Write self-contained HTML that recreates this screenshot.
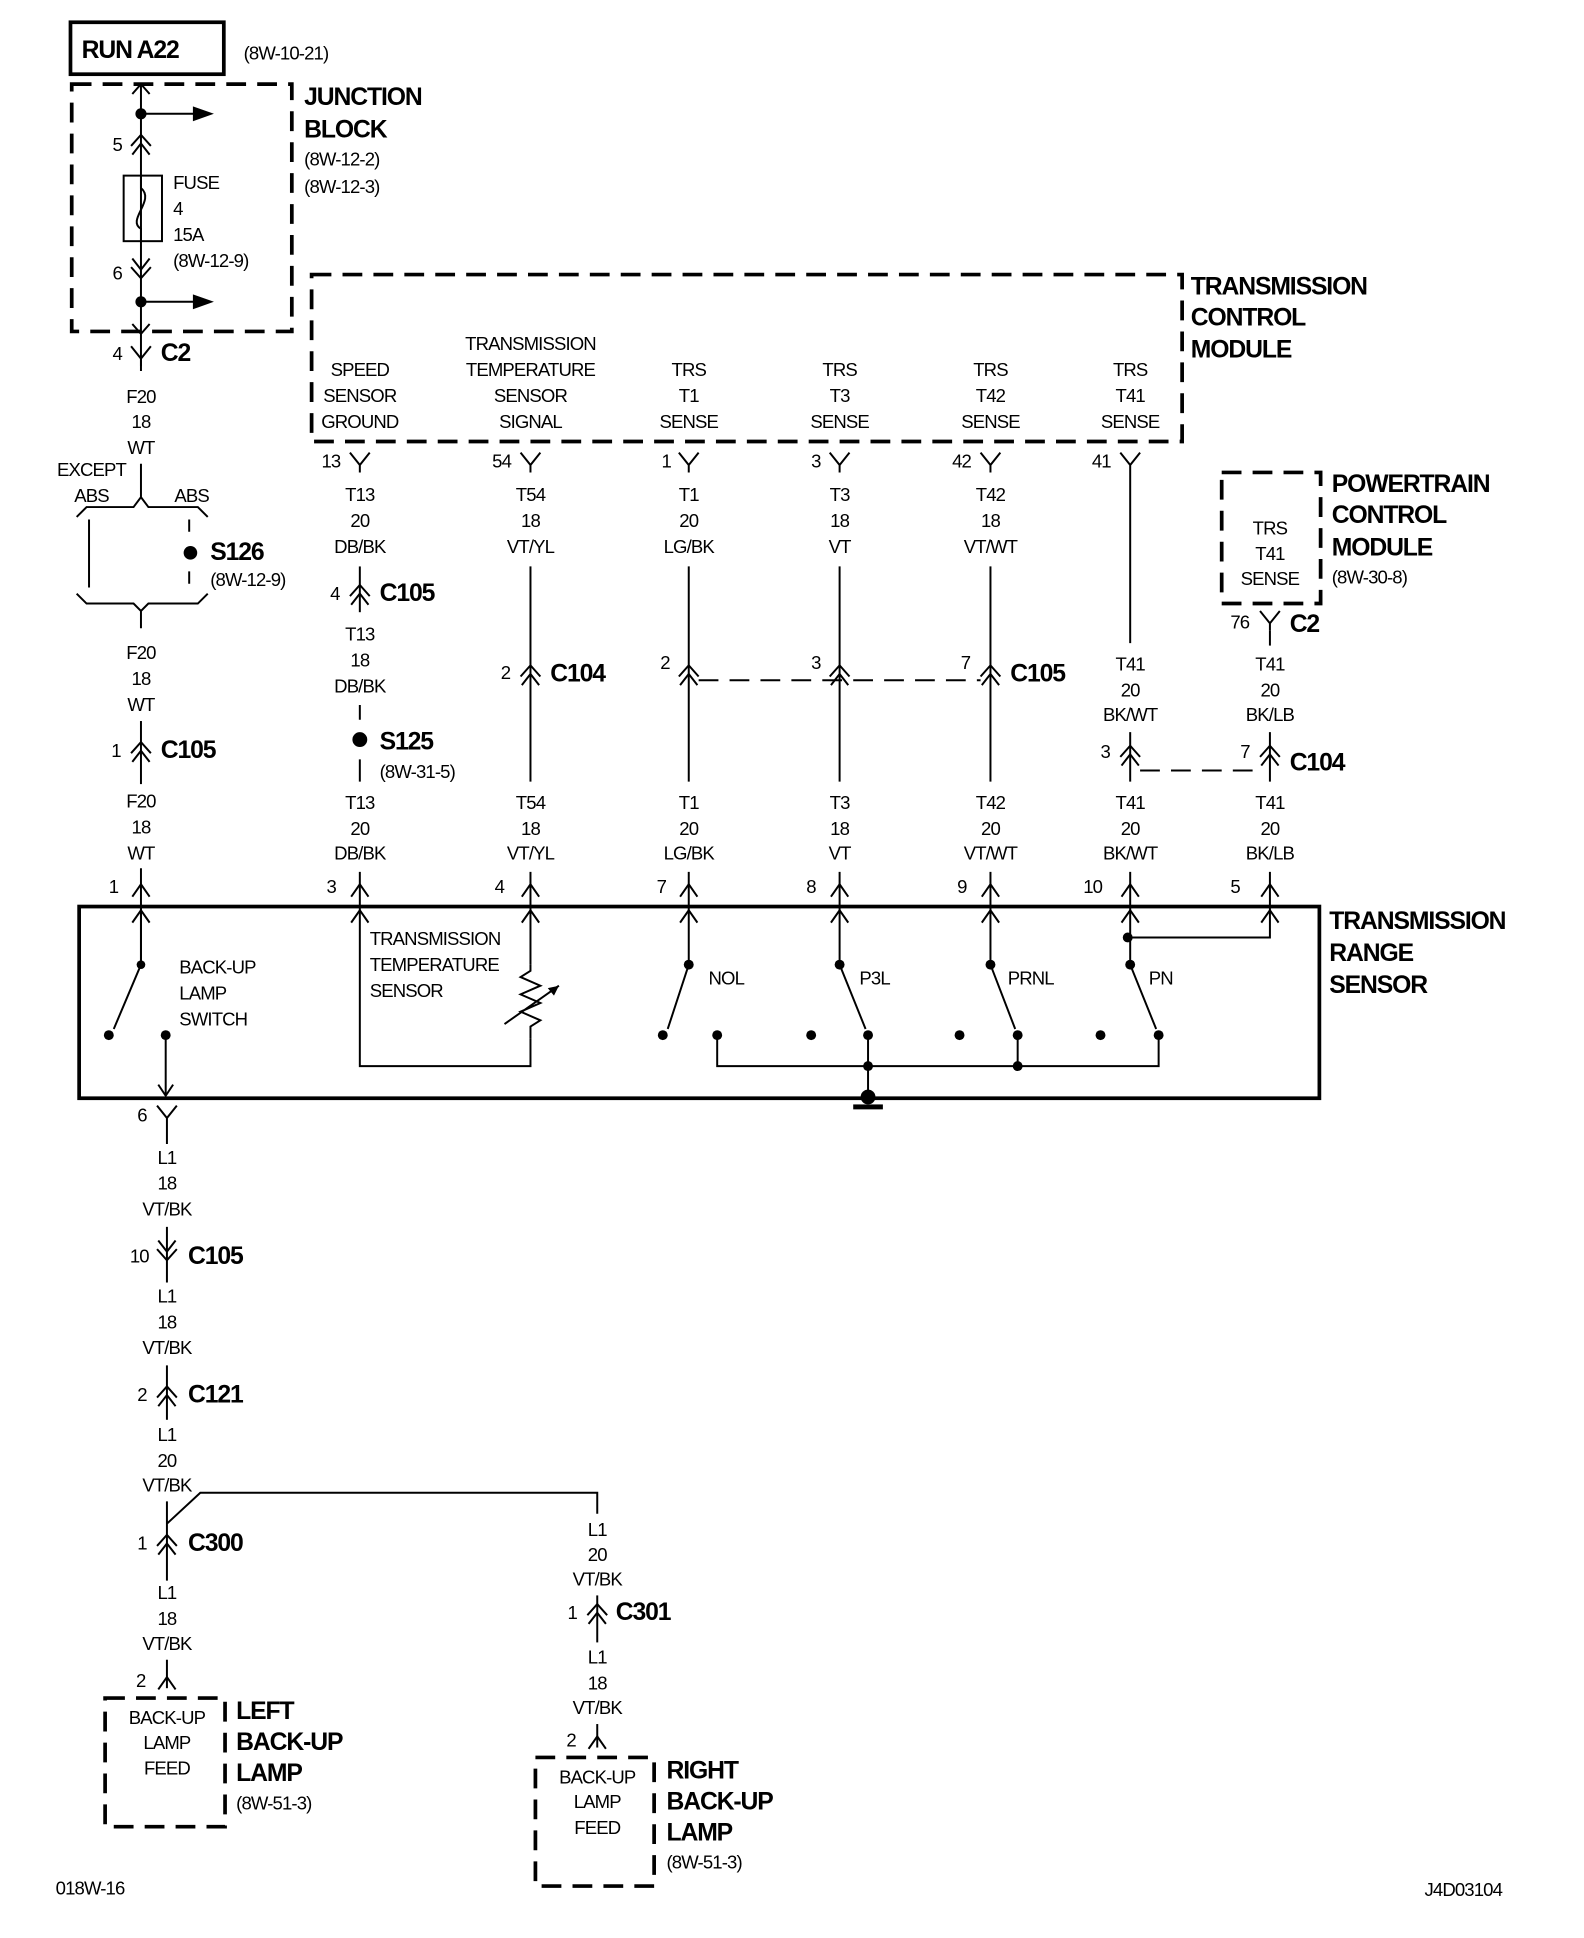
<!DOCTYPE html>
<html><head><meta charset="utf-8"><style>
html,body{margin:0;padding:0;background:#fff;}
svg{display:block;}
text{font-family:"Liberation Sans",sans-serif;font-size:15px;letter-spacing:-0.7px;fill:#000;}
.c{text-anchor:middle;}
.b{font-weight:bold;font-size:20px;letter-spacing:-0.9px;}
.w{stroke:#000;stroke-width:1.6;fill:none;}
.d{stroke:#000;stroke-width:3;fill:none;stroke-dasharray:16 9;}
.t{stroke:#000;stroke-width:3;fill:none;}
</style></head><body>
<svg width="1584" height="1938" viewBox="0 0 1281 1567" preserveAspectRatio="none" xmlns="http://www.w3.org/2000/svg">
<defs>
<g id="Y"><path class="w" d="M-8,-8 L0,2 L8,-8 M0,2 L0,8"/></g>
<g id="P"><path class="w" d="M-7,7 L0,-3 L7,7"/></g>
<g id="C"><path class="w" d="M-8,6 L0,-3 L8,6 M-7,13 L0,4 L7,13"/></g>
<g id="CD"><path class="w" d="M-8,-6 L0,3 L8,-6 M-7,-13 L0,-4 L7,-13"/></g>
</defs>

<rect x="57" y="18" width="124" height="42" class="t" stroke-width="2.5"/>
<text x="66" y="47" class="b">RUN A22</text>
<text x="197" y="48">(8W-10-21)</text>

<rect x="58" y="68" width="178" height="200" class="d"/>
<text x="246" y="85" class="b">JUNCTION</text>
<text x="246" y="111" class="b">BLOCK</text>
<text x="246" y="134">(8W-12-2)</text>
<text x="246" y="156">(8W-12-3)</text>
<path class="w" d="M114,68 L114,300"/>
<path class="w" d="M107,76 L114,68 L121,76 M107,262 L114,270 L121,262"/>
<circle cx="114" cy="92" r="4.5"/><path class="w" d="M114,92 L160,92"/><path d="M156,86 L173,92 L156,98Z"/>
<circle cx="114" cy="244" r="4.5"/><path class="w" d="M114,244 L160,244"/><path d="M156,238 L173,244 L156,250Z"/>
<use href="#C" x="114" y="112"/>
<text x="91" y="122">5</text>
<rect x="100" y="142" width="31" height="53" fill="#fff" class="w"/>
<path class="w" d="M114,142 L114,152 C126,162 102,178 114,185 L114,195"/>
<use href="#CD" x="114" y="222"/>
<text x="91" y="226">6</text>
<text x="140" y="153">FUSE</text><text x="140" y="174">4</text><text x="140" y="195">15A</text><text x="140" y="216">(8W-12-9)</text>
<use href="#Y" x="114" y="288"/>
<text x="91" y="291">4</text><text x="130" y="292" class="b">C2</text>
<text x="114" y="326" class="c">F20</text><text x="114" y="346" class="c">18</text><text x="114" y="367" class="c">WT</text>
<text x="74" y="385" class="c">EXCEPT</text><text x="74" y="406" class="c">ABS</text><text x="155" y="406" class="c">ABS</text>
<path class="w" d="M114,375 L114,402 M62,418 L70,410 L108,410 L114,402 L120,410 L160,410 L168,418"/>
<path class="w" d="M72,420 L72,475 M153,420 L153,430 M153,462 L153,472 M62,480 L70,488 L108,488 L114,494 L120,488 L160,488 L168,480 M114,494 L114,508"/>
<circle cx="154" cy="447" r="5.5"/>
<text x="170" y="453" class="b">S126</text><text x="170" y="474">(8W-12-9)</text>
<text x="114" y="533" class="c">F20</text><text x="114" y="554" class="c">18</text><text x="114" y="575" class="c">WT</text>
<path class="w" d="M114,583 L114,634"/>
<use href="#C" x="114" y="603"/>
<text x="90" y="612">1</text><text x="130" y="613" class="b">C105</text>
<text x="114" y="653" class="c">F20</text><text x="114" y="674" class="c">18</text><text x="114" y="695" class="c">WT</text>
<path class="w" d="M114,702 L114,780"/>

<rect x="252" y="222" width="704" height="135" class="d"/>
<text x="963" y="238" class="b">TRANSMISSION</text>
<text x="963" y="263" class="b">CONTROL</text>
<text x="963" y="289" class="b">MODULE</text>
<text x="429" y="283" class="c">TRANSMISSION</text>
<text x="291" y="304" class="c">SPEED</text><text x="429" y="304" class="c">TEMPERATURE</text><text x="557" y="304" class="c">TRS</text><text x="679" y="304" class="c">TRS</text><text x="801" y="304" class="c">TRS</text><text x="914" y="304" class="c">TRS</text>
<text x="291" y="325" class="c">SENSOR</text><text x="429" y="325" class="c">SENSOR</text><text x="557" y="325" class="c">T1</text><text x="679" y="325" class="c">T3</text><text x="801" y="325" class="c">T42</text><text x="914" y="325" class="c">T41</text>
<text x="291" y="346" class="c">GROUND</text><text x="429" y="346" class="c">SIGNAL</text><text x="557" y="346" class="c">SENSE</text><text x="679" y="346" class="c">SENSE</text><text x="801" y="346" class="c">SENSE</text><text x="914" y="346" class="c">SENSE</text>
<use href="#Y" x="291" y="374"/><use href="#Y" x="429" y="374"/><use href="#Y" x="557" y="374"/><use href="#Y" x="679" y="374"/><use href="#Y" x="801" y="374"/><use href="#Y" x="914" y="374"/>
<text x="260" y="378">13</text><text x="398" y="378">54</text><text x="535" y="378">1</text><text x="656" y="378">3</text><text x="770" y="378">42</text><text x="883" y="378">41</text>
<g class="c">
<text x="291" y="405">T13</text><text x="291" y="426">20</text><text x="291" y="447">DB/BK</text>
<text x="429" y="405">T54</text><text x="429" y="426">18</text><text x="429" y="447">VT/YL</text>
<text x="557" y="405">T1</text><text x="557" y="426">20</text><text x="557" y="447">LG/BK</text>
<text x="679" y="405">T3</text><text x="679" y="426">18</text><text x="679" y="447">VT</text>
<text x="801" y="405">T42</text><text x="801" y="426">18</text><text x="801" y="447">VT/WT</text>
</g>
<path class="w" d="M914,382 L914,520"/>
<path class="w" d="M291,458 L291,495"/>
<use href="#C" x="291" y="476"/>
<text x="267" y="485">4</text><text x="307" y="486" class="b">C105</text>
<text x="291" y="518" class="c">T13</text><text x="291" y="539" class="c">18</text><text x="291" y="560" class="c">DB/BK</text>
<path class="w" d="M291,570 L291,582 M291,614 L291,632"/>
<circle cx="291" cy="598" r="6"/>
<text x="307" y="606" class="b">S125</text><text x="307" y="629">(8W-31-5)</text>
<path class="w" d="M429,458 L429,632 M557,458 L557,632 M679,458 L679,632 M801,458 L801,632"/>
<use href="#C" x="429" y="541"/><use href="#C" x="557" y="541"/><use href="#C" x="679" y="541"/><use href="#C" x="801" y="541"/>
<text x="405" y="549">2</text><text x="445" y="551" class="b">C104</text>
<text x="534" y="541">2</text><text x="656" y="541">3</text><text x="777" y="541">7</text><text x="817" y="551" class="b">C105</text>
<path class="w" d="M565,550 L793,550" stroke-dasharray="16 9"/>
<rect x="988" y="382" width="80" height="106" class="d"/>
<text x="1077" y="398" class="b">POWERTRAIN</text><text x="1077" y="423" class="b">CONTROL</text><text x="1077" y="449" class="b">MODULE</text><text x="1077" y="472">(8W-30-8)</text>
<text x="1027" y="432" class="c">TRS</text><text x="1027" y="453" class="c">T41</text><text x="1027" y="473" class="c">SENSE</text>
<use href="#Y" x="1027" y="502"/><path class="w" d="M1027,510 L1027,522"/>
<text x="995" y="508">76</text><text x="1043" y="511" class="b">C2</text>
<g class="c">
<text x="914" y="542">T41</text><text x="914" y="563">20</text><text x="914" y="583">BK/WT</text>
<text x="1027" y="542">T41</text><text x="1027" y="563">20</text><text x="1027" y="583">BK/LB</text>
</g>
<path class="w" d="M914,592 L914,632 M1027,592 L1027,632"/>
<use href="#C" x="914" y="606"/><use href="#C" x="1027" y="606"/>
<text x="890" y="613">3</text><text x="1003" y="613">7</text><text x="1043" y="623" class="b">C104</text>
<path class="w" d="M922,623 L1019,623" stroke-dasharray="16 9"/>
<g class="c">
<text x="291" y="654">T13</text><text x="291" y="675">20</text><text x="291" y="695">DB/BK</text>
<text x="429" y="654">T54</text><text x="429" y="675">18</text><text x="429" y="695">VT/YL</text>
<text x="557" y="654">T1</text><text x="557" y="675">20</text><text x="557" y="695">LG/BK</text>
<text x="679" y="654">T3</text><text x="679" y="675">18</text><text x="679" y="695">VT</text>
<text x="801" y="654">T42</text><text x="801" y="675">20</text><text x="801" y="695">VT/WT</text>
<text x="914" y="654">T41</text><text x="914" y="675">20</text><text x="914" y="695">BK/WT</text>
<text x="1027" y="654">T41</text><text x="1027" y="675">20</text><text x="1027" y="695">BK/LB</text>
</g>
<path class="w" d="M291,705 L291,862 L429,862 L429,840 M429,705 L429,780 M557,705 L557,780 M679,705 L679,780 M801,705 L801,780 M914,705 L914,780 M1027,705 L1027,758 L912,758"/>
<use href="#P" x="114" y="718"/><use href="#P" x="291" y="718"/><use href="#P" x="429" y="718"/><use href="#P" x="557" y="718"/><use href="#P" x="679" y="718"/><use href="#P" x="801" y="718"/><use href="#P" x="914" y="718"/><use href="#P" x="1027" y="718"/>
<use href="#P" x="114" y="739"/><use href="#P" x="291" y="739"/><use href="#P" x="429" y="739"/><use href="#P" x="557" y="739"/><use href="#P" x="679" y="739"/><use href="#P" x="801" y="739"/><use href="#P" x="914" y="739"/><use href="#P" x="1027" y="739"/>
<text x="88" y="722">1</text><text x="264" y="722">3</text><text x="400" y="722">4</text><text x="531" y="722">7</text><text x="652" y="722">8</text><text x="774" y="722">9</text><text x="876" y="722">10</text><text x="995" y="722">5</text>
<rect x="64" y="733" width="1003" height="155" class="t"/>
<text x="1075" y="751" class="b">TRANSMISSION</text><text x="1075" y="777" class="b">RANGE</text><text x="1075" y="803" class="b">SENSOR</text>
<text x="145" y="787">BACK-UP</text><text x="145" y="808">LAMP</text><text x="145" y="829">SWITCH</text>
<text x="299" y="764">TRANSMISSION</text><text x="299" y="785">TEMPERATURE</text><text x="299" y="806">SENSOR</text>
<path class="w" d="M429,780 L429,785 L421,790 L437,797 L421,804 L437,811 L421,818 L437,825 L429,830 L429,840 M408,828 L452,797"/><path d="M452,797 L443,799 L448,805Z"/>
<path class="w" d="M114,733 L114,780 L92,832 M134,837 L134,885"/>
<circle cx="114" cy="780" r="3.5"/><circle cx="88" cy="837" r="4"/><circle cx="134" cy="837" r="4"/>
<path class="w" d="M128,877 L134,886 L140,877"/>
<path class="w" d="M557,780 L540,832 M679,780 L700,832 M801,780 L821,832 M914,780 L935,832"/>
<circle cx="557" cy="780" r="4"/><circle cx="679" cy="780" r="4"/><circle cx="801" cy="780" r="4"/><circle cx="914" cy="780" r="4"/><circle cx="912" cy="758" r="4"/>
<circle cx="536" cy="837" r="4"/><circle cx="580" cy="837" r="4"/><circle cx="656" cy="837" r="4"/><circle cx="702" cy="837" r="4"/><circle cx="776" cy="837" r="4"/><circle cx="823" cy="837" r="4"/><circle cx="890" cy="837" r="4"/><circle cx="937" cy="837" r="4"/>
<text x="573" y="796">NOL</text><text x="695" y="796">P3L</text><text x="815" y="796">PRNL</text><text x="929" y="796">PN</text>
<path class="w" d="M580,837 L580,862 L937,862 L937,837 M702,837 L702,888 M823,837 L823,862"/>
<circle cx="702" cy="862" r="4"/><circle cx="823" cy="862" r="4"/><circle cx="702" cy="887" r="6"/>
<rect x="690" y="893" width="24" height="4"/>
<use href="#Y" x="135" y="902"/>
<text x="111" y="907">6</text>
<path class="w" d="M135,910 L135,925"/>
<g class="c">
<text x="135" y="941">L1</text><text x="135" y="962">18</text><text x="135" y="983">VT/BK</text>
<text x="135" y="1053">L1</text><text x="135" y="1074">18</text><text x="135" y="1095">VT/BK</text>
<text x="135" y="1165">L1</text><text x="135" y="1186">20</text><text x="135" y="1206">VT/BK</text>
<text x="135" y="1293">L1</text><text x="135" y="1314">18</text><text x="135" y="1334">VT/BK</text>
</g>
<path class="w" d="M135,992 L135,1037"/><use href="#CD" x="135" y="1016"/>
<text x="105" y="1021">10</text><text x="152" y="1022" class="b">C105</text>
<path class="w" d="M135,1104 L135,1148"/><use href="#C" x="135" y="1124"/>
<text x="111" y="1133">2</text><text x="152" y="1134" class="b">C121</text>
<path class="w" d="M135,1214 L135,1278 M135,1232 L162,1207 L483,1207 L483,1224"/><use href="#C" x="135" y="1244"/>
<text x="111" y="1253">1</text><text x="152" y="1254" class="b">C300</text>
<path class="w" d="M135,1342 L135,1365"/><use href="#P" x="135" y="1359"/>
<text x="110" y="1364">2</text>
<rect x="85" y="1373" width="97" height="104" class="d" stroke-width="2.5"/>
<text x="135" y="1394" class="c">BACK-UP</text><text x="135" y="1414" class="c">LAMP</text><text x="135" y="1435" class="c">FEED</text>
<text x="191" y="1390" class="b">LEFT</text><text x="191" y="1415" class="b">BACK-UP</text><text x="191" y="1440" class="b">LAMP</text><text x="191" y="1463">(8W-51-3)</text>
<g class="c"><text x="483" y="1242">L1</text><text x="483" y="1262">20</text><text x="483" y="1282">VT/BK</text>
<text x="483" y="1345">L1</text><text x="483" y="1366">18</text><text x="483" y="1386">VT/BK</text></g>
<path class="w" d="M483,1290 L483,1328"/><use href="#C" x="483" y="1300"/>
<text x="459" y="1309">1</text><text x="498" y="1310" class="b">C301</text>
<path class="w" d="M483,1394 L483,1413"/><use href="#P" x="483" y="1407"/>
<text x="458" y="1412">2</text>
<rect x="433" y="1421" width="96" height="104" class="d" stroke-width="2.5"/>
<text x="483" y="1442" class="c">BACK-UP</text><text x="483" y="1462" class="c">LAMP</text><text x="483" y="1483" class="c">FEED</text>
<text x="539" y="1438" class="b">RIGHT</text><text x="539" y="1463" class="b">BACK-UP</text><text x="539" y="1488" class="b">LAMP</text><text x="539" y="1511">(8W-51-3)</text>
<text x="45" y="1532">018W-16</text>
<text x="1152" y="1533">J4D03104</text>
</svg>
</body></html>
